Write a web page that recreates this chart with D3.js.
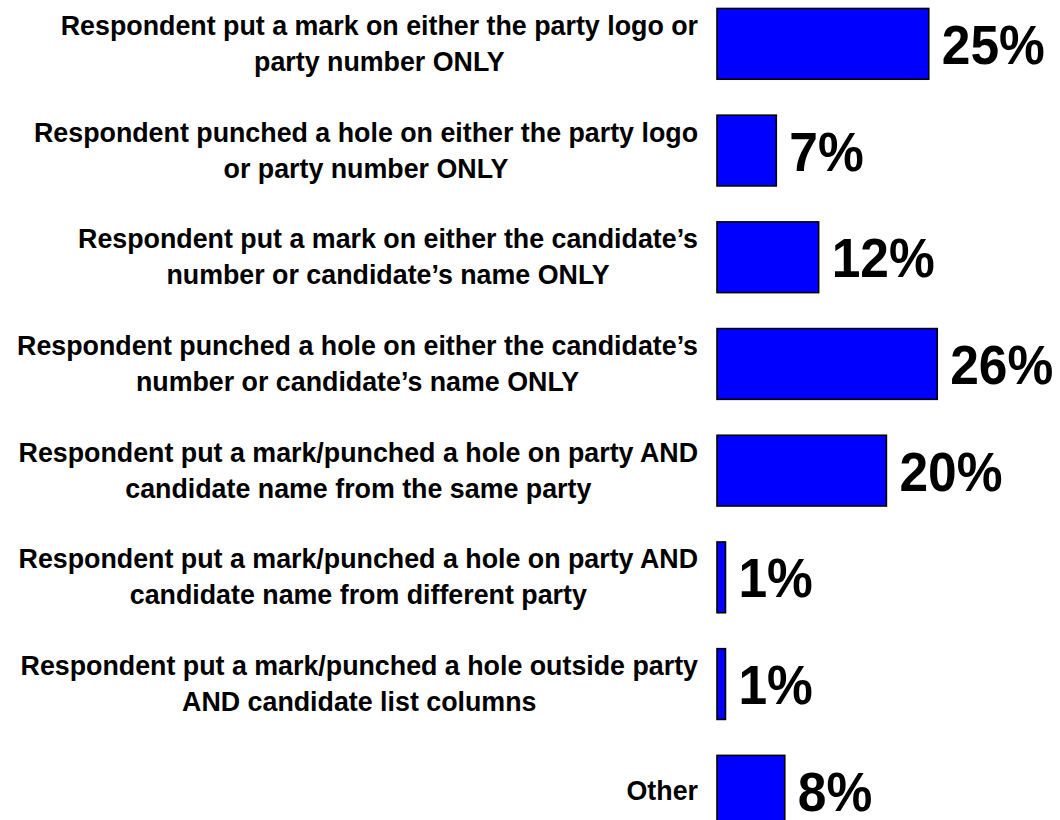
<!DOCTYPE html>
<html>
<head>
<meta charset="utf-8">
<script src="https://cdn.jsdelivr.net/npm/d3@7"></script>
<style>
  html, body { margin: 0; padding: 0; background: #ffffff; }
  svg { display: block; }
  text { font-family: "Liberation Sans", Arial, Helvetica, sans-serif; font-weight: bold; fill: #000; }
</style>
</head>
<body>
<svg id="chart" width="1060" height="820"></svg>
<script>
// Ballot-marking behaviours, each label split into its display lines
const categories = [
  ["Respondent put a mark on either the party logo or", "party number ONLY"],
  ["Respondent punched a hole on either the party logo", "or party number ONLY"],
  ["Respondent put a mark on either the candidate\u2019s", "number or candidate\u2019s name ONLY"],
  ["Respondent punched a hole on either the candidate\u2019s", "number or candidate\u2019s name ONLY"],
  ["Respondent put a mark/punched a hole on party AND", "candidate name from the same party"],
  ["Respondent put a mark/punched a hole on party AND", "candidate name from different party"],
  ["Respondent put a mark/punched a hole outside party", "AND candidate list columns"],
  ["Other"]
];

// Share of respondents (%)
const values = [25, 7, 12, 26, 20, 1, 1, 8];

const valueLabels = values.map(v => v + "%");

const svg = d3.select("#chart");

const ids = categories.map((c, i) => i);

const x = d3.scaleLinear()
  .domain([0, 30])
  .range([717, 717 + 8.47 * 30]);

const y = d3.scaleBand()
  .domain(ids)
  .range([-9.5, 844.1])
  .paddingInner(0.337)
  .paddingOuter(0.1685);

// Bars
svg.append("g")
  .selectAll("rect")
  .data(values)
  .join("rect")
  .attr("x", x(0))
  .attr("y", (d, i) => y(i))
  .attr("width", d => x(d) - x(0))
  .attr("height", y.bandwidth())
  .attr("fill", "#0000ff")
  .attr("stroke", "#000")
  .attr("stroke-width", 1.6);

// Value labels (slightly condensed, tall digits)
svg.append("g")
  .selectAll("text")
  .data(values)
  .join("text")
  .attr("transform", (d, i) =>
    `translate(${x(d) + 13},${y(i) + y.bandwidth() / 2 + 20}) scale(0.92,1)`)
  .attr("font-size", 56)
  .text((d, i) => valueLabels[i]);

// Category labels: lines centred on each other, block right-aligned beside the bars
const labelRight = 698;
const lineGap = 36;
const labelGroups = svg.append("g")
  .selectAll("g")
  .data(categories)
  .join("g");

labelGroups.each(function(lines, i) {
  const g = d3.select(this);
  const cy = y(i) + y.bandwidth() / 2;
  const n = lines.length;
  const texts = g.selectAll("text")
    .data(lines)
    .join("text")
    .attr("text-anchor", "middle")
    .attr("x", 0)
    .attr("y", (d, j) => cy + (j - (n - 1) / 2) * lineGap + 9)
    .attr("font-size", 26.8)
    .text(d => d);
  let maxW = 0;
  texts.each(function() { maxW = Math.max(maxW, this.getComputedTextLength()); });
  g.attr("transform", `translate(${labelRight - maxW / 2},0)`);
});
</script>
</body>
</html>
